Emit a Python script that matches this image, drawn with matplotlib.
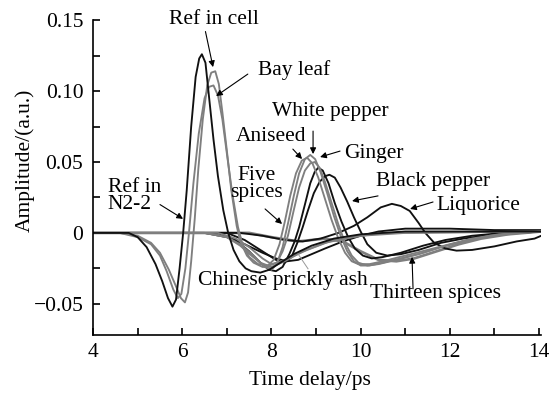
import matplotlib
matplotlib.use("Agg")
import matplotlib.pyplot as plt
from matplotlib.ticker import MultipleLocator

plt.rcParams['font.family'] = ['Liberation Serif', 'DejaVu Serif']
plt.rcParams['font.size'] = 15.5

# time-domain waveforms (time delay ps, amplitude a.u.)
ref_n2_t = [4.0, 4.8, 5.0, 5.2, 5.4, 5.55, 5.68, 5.78, 5.86, 5.94, 6.02, 6.1, 6.2, 6.3, 6.38,
            6.44, 6.52, 6.6, 6.7, 6.8, 6.92, 7.03, 7.15, 7.28, 7.42, 7.55, 7.75, 7.95, 8.2,
            8.5, 8.9, 9.4, 10.0, 11.0, 12.0, 13.0, 14.05]
ref_n2_a = [0.0, 0.0, -0.003, -0.010, -0.022, -0.034, -0.046, -0.052, -0.047, -0.025, 0.0,
            0.03, 0.075, 0.11, 0.123, 0.126, 0.120, 0.096, 0.066, 0.040, 0.016, 0.0, -0.012,
            -0.020, -0.025, -0.027, -0.028, -0.026, -0.021, -0.015, -0.009, -0.004, -0.001,
            0.001, 0.001, 0.001, 0.001]

ref_cell_t = [4.0, 4.6, 5.0, 5.3, 5.5, 5.7, 5.85, 5.97, 6.06, 6.13, 6.2, 6.28, 6.36, 6.46,
              6.56, 6.65, 6.74, 6.82, 6.9, 7.0, 7.1, 7.22, 7.3, 7.45, 7.6, 7.8, 8.0, 8.3,
              8.7, 9.2, 9.8, 10.5, 14.05]
ref_cell_a = [0.0, 0.0, -0.002, -0.007, -0.014, -0.026, -0.037, -0.046, -0.049, -0.042,
              -0.020, 0.010, 0.045, 0.080, 0.104, 0.113, 0.114, 0.105, 0.085, 0.058, 0.030,
              0.005, -0.006, -0.016, -0.021, -0.024, -0.024, -0.020, -0.013, -0.007, -0.003,
              0.0, 0.001]

bay_t = [4.0, 4.6, 5.0, 5.3, 5.5, 5.65, 5.8, 5.9, 5.98, 6.07, 6.15, 6.25, 6.37, 6.5, 6.6,
         6.7, 6.8, 6.9, 7.0, 7.12, 7.25, 7.35, 7.5, 7.7, 7.95, 8.3, 8.8, 9.3, 10.0, 11.0, 14.05]
bay_a = [0.0, 0.0, -0.003, -0.008, -0.016, -0.027, -0.040, -0.046, -0.043, -0.025, 0.0,
         0.035, 0.070, 0.095, 0.103, 0.104, 0.097, 0.080, 0.056, 0.028, 0.004, -0.008,
         -0.017, -0.022, -0.023, -0.019, -0.012, -0.006, -0.002, 0.0, 0.001]

white_t = [4.0, 6.5, 7.0, 7.3, 7.6, 7.85, 8.0, 8.12, 8.25, 8.38, 8.5, 8.62, 8.75, 8.87, 8.98,
           9.1, 9.25, 9.4, 9.55, 9.7, 9.85, 10.0, 10.2, 10.5, 10.9, 11.4, 11.9, 12.4, 13.0,
           13.6, 14.05]
white_a = [0.0, 0.0, -0.003, -0.008, -0.016, -0.024, -0.026, -0.022, -0.010, 0.008, 0.026,
           0.042, 0.052, 0.055, 0.052, 0.043, 0.028, 0.012, -0.002, -0.013, -0.020, -0.023,
           -0.023, -0.021, -0.018, -0.014, -0.009, -0.005, -0.002, 0.0, 0.001]

anise_t = [4.0, 6.5, 7.0, 7.3, 7.55, 7.75, 7.92, 8.05, 8.18, 8.3, 8.42, 8.55, 8.68, 8.8, 8.92,
           9.05, 9.2, 9.35, 9.5, 9.65, 9.8, 9.95, 10.2, 10.5, 11.0, 11.5, 12.0, 12.5, 13.1, 14.05]
anise_a = [0.0, 0.0, -0.003, -0.009, -0.016, -0.021, -0.023, -0.019, -0.008, 0.008, 0.026,
           0.042, 0.051, 0.053, 0.049, 0.039, 0.024, 0.009, -0.004, -0.014, -0.020, -0.022,
           -0.022, -0.020, -0.016, -0.012, -0.008, -0.004, -0.001, 0.001]

five_t = [4.0, 6.8, 7.2, 7.5, 7.8, 8.0, 8.12, 8.25, 8.37, 8.5, 8.62, 8.75, 8.87, 8.97, 9.08,
          9.2, 9.35, 9.5, 9.65, 9.8, 9.95, 10.15, 10.4, 10.8, 11.3, 11.8, 12.3, 12.9, 13.5, 14.05]
five_a = [0.0, 0.0, -0.004, -0.010, -0.018, -0.022, -0.021, -0.013, -0.002, 0.016, 0.032,
          0.044, 0.049, 0.050, 0.046, 0.036, 0.021, 0.006, -0.007, -0.016, -0.021, -0.023,
          -0.022, -0.019, -0.015, -0.010, -0.006, -0.002, 0.0, 0.001]

ginger_t = [4.0, 6.8, 7.2, 7.5, 7.75, 7.95, 8.1, 8.25, 8.4, 8.52, 8.62, 8.75, 8.87, 8.97, 9.05,
            9.15, 9.28, 9.42, 9.57, 9.72, 9.87, 10.05, 10.25, 10.5, 10.9, 11.4, 11.9, 12.5,
            13.2, 14.05]
ginger_a = [0.0, 0.0, -0.005, -0.013, -0.021, -0.026, -0.027, -0.024, -0.015, -0.006, 0.004,
            0.020, 0.035, 0.043, 0.046, 0.044, 0.035, 0.021, 0.008, -0.003, -0.011, -0.016,
            -0.018, -0.017, -0.014, -0.009, -0.005, -0.002, 0.0, 0.001]

black_t = [4.0, 7.0, 7.4, 7.8, 8.1, 8.3, 8.45, 8.58, 8.7, 8.82, 8.95, 9.08, 9.2, 9.3, 9.42,
           9.55, 9.7, 9.85, 10.0, 10.15, 10.35, 10.6, 10.9, 11.3, 11.8, 12.3, 13.0, 14.05]
black_a = [0.0, 0.0, -0.005, -0.013, -0.019, -0.021, -0.017, -0.007, 0.004, 0.016, 0.028,
           0.036, 0.040, 0.041, 0.039, 0.032, 0.022, 0.011, 0.001, -0.008, -0.014, -0.016,
           -0.015, -0.012, -0.007, -0.004, -0.001, 0.001]

prickly_t = [4.0, 6.5, 7.0, 7.4, 7.8, 8.1, 8.35, 8.6, 8.9, 9.2, 9.6, 10.0, 10.4, 11.0, 12.0,
             13.0, 14.05]
prickly_a = [0.0, 0.0, -0.003, -0.008, -0.014, -0.018, -0.020, -0.019, -0.015, -0.011,
             -0.006, -0.002, 0.001, 0.003, 0.003, 0.002, 0.002]

thirteen_t = [4.0, 7.5, 8.0, 8.6, 9.2, 9.6, 10.0, 10.4, 10.8, 11.2, 11.7, 12.2, 12.7, 13.3, 14.05]
thirteen_a = [0.0, 0.0, -0.003, -0.006, -0.004, -0.006, -0.013, -0.019, -0.020, -0.018,
              -0.013, -0.008, -0.004, -0.001, 0.001]

liquor_t = [4.0, 7.3, 7.8, 8.3, 8.7, 9.1, 9.5, 9.85, 10.15, 10.45, 10.7, 10.9, 11.1, 11.3,
            11.45, 11.65, 11.9, 12.15, 12.5, 13.0, 13.5, 13.9, 14.05]
liquor_a = [0.0, 0.0, -0.002, -0.005, -0.006, -0.004, 0.0, 0.005, 0.011, 0.018, 0.0205,
            0.019, 0.0155, 0.007, 0.0, -0.007, -0.011, -0.0125, -0.012, -0.0095, -0.006,
            -0.004, -0.002]

x_ticks = [4, 6, 8, 10, 12, 14]
y_ticks = [-0.05, 0, 0.05, 0.10, 0.15]
y_tick_labels = ['\u22120.05', '0', '0.05', '0.10', '0.15']

GRAY = '#7f7f7f'
BLACK = '#111111'

fig = plt.figure(figsize=(5.54, 3.96), dpi=100)
ax = fig.add_axes([0.168, 0.154, 0.809, 0.795])

lw = 1.35
ax.plot(thirteen_t, thirteen_a, color=GRAY, lw=lw + 0.6)
ax.plot(prickly_t, prickly_a, color=BLACK, lw=lw)
ax.plot(liquor_t, liquor_a, color=BLACK, lw=lw)
ax.plot(black_t, black_a, color=BLACK, lw=lw)
ax.plot(ginger_t, ginger_a, color=BLACK, lw=lw)
ax.plot(five_t, five_a, color=GRAY, lw=lw)
ax.plot(anise_t, anise_a, color=GRAY, lw=lw)
ax.plot(white_t, white_a, color=GRAY, lw=lw)
ax.plot(bay_t, bay_a, color=GRAY, lw=lw)
ax.plot(ref_cell_t, ref_cell_a, color=GRAY, lw=lw)
ax.plot(ref_n2_t, ref_n2_a, color=BLACK, lw=lw)

ax.set_xlim(4, 14.05)
ax.set_ylim(-0.072, 0.15)
ax.set_xticks(x_ticks)
ax.set_yticks(y_ticks)
ax.set_yticklabels(y_tick_labels)
ax.xaxis.set_minor_locator(MultipleLocator(1))
ax.yaxis.set_minor_locator(MultipleLocator(0.025))
ax.tick_params(which='both', direction='in', length=5, width=1.2, labelsize=15.5)
ax.tick_params(axis='x', pad=6)
ax.tick_params(axis='y', pad=7)
for side in ['top', 'right']:
    ax.spines[side].set_visible(False)
for side in ['left', 'bottom']:
    ax.spines[side].set_linewidth(1.2)

ax.set_xlabel('Time delay/ps', fontsize=15.5)
ax.set_ylabel('Amplitude/(a.u.)', fontsize=15.5)
ax.xaxis.set_label_coords(0.484, -0.115)
ax.yaxis.set_label_coords(-0.13, 0.556)

arrow = dict(arrowstyle='-|>', color='k', lw=0.8, mutation_scale=9, shrinkA=0, shrinkB=0)

ax.text(6.713, 0.1507, 'Ref in cell', ha='center', va='center')
ax.annotate('', xy=(6.69, 0.1169), xytext=(6.52, 0.142), arrowprops=arrow)

ax.text(8.507, 0.1148, 'Bay leaf', ha='center', va='center')
ax.annotate('', xy=(6.758, 0.0965), xytext=(7.47, 0.112), arrowprops=arrow)

ax.text(4.33, 0.026, 'Ref in\nN2-2', ha='left', va='center', linespacing=0.92)
ax.annotate('', xy=(6.018, 0.0099), xytext=(5.50, 0.020), arrowprops=arrow)

ax.text(9.314, 0.0859, 'White pepper', ha='center', va='center')
ax.annotate('', xy=(8.933, 0.0556), xytext=(8.933, 0.0718), arrowprops=arrow)

ax.text(7.991, 0.0683, 'Aniseed', ha='center', va='center')
ax.annotate('', xy=(8.686, 0.0521), xytext=(8.48, 0.0591), arrowprops=arrow)

ax.text(10.30, 0.0563, 'Ginger', ha='center', va='center')
ax.annotate('', xy=(9.09, 0.0535), xytext=(9.538, 0.0577), arrowprops=arrow)

ax.text(11.623, 0.0366, 'Black pepper', ha='center', va='center')
ax.annotate('', xy=(9.807, 0.0225), xytext=(10.39, 0.0261), arrowprops=arrow)

ax.text(12.632, 0.019, 'Liquorice', ha='center', va='center')
ax.annotate('', xy=(11.108, 0.0169), xytext=(11.623, 0.0218), arrowprops=arrow)

ax.text(7.655, 0.0345, 'Five\nspices', ha='center', va='center', linespacing=0.9)
ax.annotate('', xy=(8.238, 0.0063), xytext=(7.857, 0.0169), arrowprops=arrow)

ax.text(8.26, -0.0338, 'Chinese prickly ash', ha='center', va='center')
ax.plot([8.596, 8.82], [-0.0148, -0.0253], color='#999999', lw=0.7)

ax.text(11.668, -0.0429, 'Thirteen spices', ha='center', va='center')
ax.annotate('', xy=(11.152, -0.0169), xytext=(11.175, -0.0394), arrowprops=arrow)

fig.savefig('out.png', dpi=100)
